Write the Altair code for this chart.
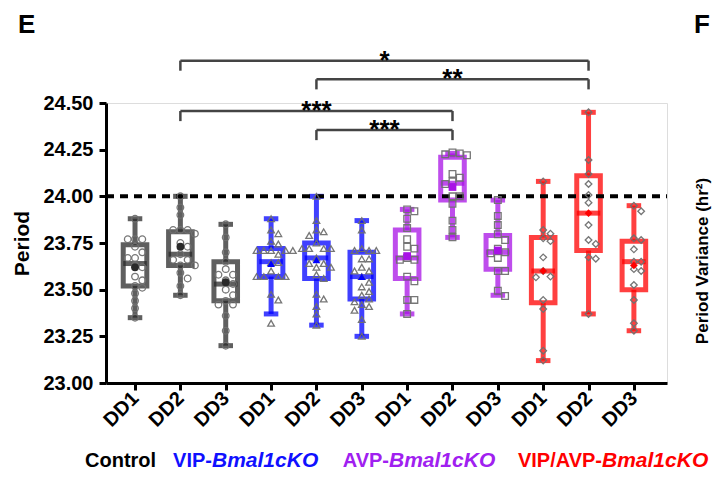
import altair as alt
import pandas as pd

# ---- data -------------------------------------------------------------
groups = ["Control", "VIP-Bmal1cKO", "AVP-Bmal1cKO", "VIP/AVP-Bmal1cKO"]
days = ["DD1", "DD2", "DD3"]
box_colors = ["#2a2a2a", "#0000FF", "#A812E6", "#FF0000"]
point_shapes = ["circle", "triangle-up", "square", "diamond"]
mean_shapes = ["circle", "circle", "square", "square"]

# individual animal periods (hr), per group and day
periods = {
    ("Control", "DD1"): [23.88, 23.77, 23.77, 23.77, 23.73, 23.70, 23.67, 23.67, 23.63,
                         23.62, 23.57, 23.55, 23.52, 23.51, 23.48, 23.44, 23.40, 23.35],
    ("Control", "DD2"): [24.00, 23.94, 23.90, 23.82, 23.82, 23.82, 23.80, 23.75, 23.73,
                         23.69, 23.66, 23.66, 23.63, 23.63, 23.59, 23.56, 23.52, 23.47],
    ("Control", "DD3"): [23.85, 23.78, 23.70, 23.65, 23.61, 23.58, 23.58, 23.55, 23.53,
                         23.50, 23.47, 23.44, 23.42, 23.42, 23.36, 23.28, 23.20],
    ("VIP-Bmal1cKO", "DD1"): [23.88, 23.82, 23.80, 23.76, 23.745, 23.71, 23.71, 23.71, 23.71,
                              23.71, 23.69, 23.645, 23.645, 23.60, 23.57, 23.57, 23.57,
                              23.57, 23.475, 23.445, 23.32],
    ("VIP-Bmal1cKO", "DD2"): [24.00, 23.87, 23.82, 23.81, 23.79, 23.75, 23.72, 23.72, 23.72,
                              23.72, 23.67, 23.64, 23.64, 23.62, 23.62, 23.58, 23.56,
                              23.475, 23.45, 23.41, 23.37, 23.31],
    ("VIP-Bmal1cKO", "DD3"): [23.87, 23.82, 23.72, 23.71, 23.71, 23.71, 23.665, 23.665,
                              23.62, 23.60, 23.60, 23.57, 23.54, 23.515, 23.49, 23.47,
                              23.45, 23.435, 23.42, 23.41, 23.39, 23.34, 23.25],
    ("AVP-Bmal1cKO", "DD1"): [23.93, 23.92, 23.88, 23.83, 23.77, 23.73, 23.72, 23.67, 23.66,
                              23.66, 23.57, 23.545, 23.445, 23.445, 23.37],
    ("AVP-Bmal1cKO", "DD2"): [24.235, 24.23, 24.225, 24.22, 24.12, 24.10, 24.08, 24.066,
                              24.00, 24.00, 23.96, 23.87, 23.82, 23.78],
    ("AVP-Bmal1cKO", "DD3"): [23.98, 23.895, 23.846, 23.797, 23.766, 23.72, 23.70, 23.695,
                              23.67, 23.60, 23.60, 23.494, 23.466],
    ("VIP/AVP-Bmal1cKO", "DD1"): [24.08, 23.82, 23.80, 23.775, 23.76, 23.673, 23.60, 23.57,
                                  23.566, 23.445, 23.396, 23.173, 23.12],
    ("VIP/AVP-Bmal1cKO", "DD2"): [24.45, 24.195, 24.12, 24.066, 24.007, 23.966, 23.846,
                                  23.766, 23.745, 23.673, 23.666, 23.37],
    ("VIP/AVP-Bmal1cKO", "DD3"): [23.95, 23.92, 23.775, 23.766, 23.716, 23.65, 23.65, 23.61,
                                  23.60, 23.525, 23.445, 23.32, 23.28],
}

# box summaries in plotting order (Control DD1 ... VIP/AVP DD3)
whisker_low = [23.35, 23.47, 23.20, 23.37, 23.31, 23.25, 23.37, 23.78, 23.47, 23.12, 23.37, 23.28]
quart_1 = [23.52, 23.63, 23.44, 23.57, 23.56, 23.45, 23.56, 23.98, 23.61, 23.43, 23.71, 23.50]
medians = [23.64, 23.69, 23.53, 23.65, 23.67, 23.57, 23.67, 24.07, 23.70, 23.60, 23.91, 23.65]
quart_3 = [23.74, 23.81, 23.65, 23.72, 23.75, 23.70, 23.82, 24.21, 23.79, 23.78, 24.11, 23.76]
whisker_high = [23.88, 24.00, 23.85, 23.88, 24.00, 23.87, 23.93, 24.23, 23.98, 24.08, 24.45, 23.95]
means = [23.62, 23.73, 23.54, 23.64, 23.66, 23.57, 23.68, 24.05, 23.71, 23.60, 23.91, 23.63]

# significance comparisons: (from box, to box, bracket level, stars)
sig_from = [2, 5, 2, 5]
sig_to = [11, 11, 8, 8]
sig_level = [24.727, 24.627, 24.457, 24.355]
sig_label = ["*", "**", "***", "***"]

y_ticks = [23.00, 23.25, 23.50, 23.75, 24.00, 24.25, 24.50]
reference_period = 24.0

# ---- tables -------------------------------------------------------------
BOX_HALF = 0.26
CAP_HALF = 0.16
LEG_DROP = 0.054


def swarm(values, dv=0.036, dx=0.16):
    """Deterministic beeswarm offsets so overlapping markers sit side by side."""
    order = sorted(range(len(values)), key=lambda k: -values[k])
    placed = []
    offs = [0.0] * len(values)
    for k in order:
        v = values[k]
        for step in range(0, 12):
            cand = 0.0 if step == 0 else ((step + 1) // 2) * dx * (1 if step % 2 else -1)
            if all(abs(v - pv) >= dv or abs(cand - po) >= dx * 0.95 for pv, po in placed):
                break
        placed.append((v, cand))
        offs[k] = cand
    return offs


box_rows = []
point_rows = []
for gi, g in enumerate(groups):
    for di, d in enumerate(days):
        i = gi * 3 + di
        pos = i + 1
        box_rows.append({
            "group": g, "day": d, "pos": pos,
            "left": pos - BOX_HALF, "right": pos + BOX_HALF,
            "cap_l": pos - CAP_HALF, "cap_r": pos + CAP_HALF,
            "low": whisker_low[i], "q1": quart_1[i], "median": medians[i],
            "q3": quart_3[i], "high": whisker_high[i], "mean": means[i],
        })
        vals = periods[(g, d)]
        for v, o in zip(vals, swarm(vals)):
            point_rows.append({"group": g, "day": d, "x": pos + o, "period": v})

boxes = pd.DataFrame(box_rows)
points = pd.DataFrame(point_rows)

brackets = pd.DataFrame({
    "x1": sig_from, "x2": sig_to, "level": sig_level, "label": sig_label,
})
brackets["mid"] = (brackets["x1"] + brackets["x2"]) / 2
brackets["foot"] = brackets["level"] - LEG_DROP

# ---- scales & axes --------------------------------------------------------
X_DOMAIN = [0.36, 12.73]
Y_DOMAIN = [23.0, 24.5]
FONT = "Liberation Sans"

x_axis = alt.Axis(
    values=list(range(1, 13)),
    labelExpr="['DD1','DD2','DD3'][(datum.value - 1) % 3]",
    labelAngle=-45, labelAlign="right", labelBaseline="middle",
    labelFontSize=20, labelFontWeight="bold", labelFont=FONT,
    labelColor="black", labelPadding=5, tickSize=7, tickWidth=3, tickColor="black",
    domainWidth=3, domainColor="black", grid=False, title=None,
)
y_axis = alt.Axis(
    values=y_ticks, format=".2f",
    labelFontSize=20, labelFontWeight="bold", labelFont=FONT, labelColor="black",
    labelPadding=6, tickSize=7, tickWidth=3, tickColor="black",
    domainWidth=3, domainColor="black", grid=False,
    title="Period", titleFontSize=21, titleFontWeight="bold", titleFont=FONT,
    titleColor="black", titlePadding=10,
)
x_scale = alt.Scale(domain=X_DOMAIN, nice=False, zero=False)
y_scale = alt.Scale(domain=Y_DOMAIN, nice=False, zero=False)
col_scale = alt.Scale(domain=groups, range=box_colors)


def X(field):
    return alt.X(f"{field}:Q", scale=x_scale, axis=x_axis)


def Y(field):
    return alt.Y(f"{field}:Q", scale=y_scale, axis=y_axis)


color = alt.Color("group:N", scale=col_scale, legend=None)
BOX_OPACITY = 0.75

# ---- layers ------------------------------------------------------------
ref_line = alt.Chart(pd.DataFrame({"y": [reference_period]})).mark_rule(
    color="black", strokeWidth=4, strokeDash=[8, 6]
).encode(x=alt.datum(X_DOMAIN[0]), x2=alt.datum(X_DOMAIN[1]), y=Y("y"))

base = alt.Chart(boxes)

whiskers = base.mark_rule(strokeWidth=5, opacity=BOX_OPACITY).encode(
    x=X("pos"), y=Y("low"), y2="high", stroke=color
)
caps_low = base.mark_rule(strokeWidth=5, opacity=BOX_OPACITY).encode(
    x=X("cap_l"), x2="cap_r", y=Y("low"), stroke=color
)
caps_high = base.mark_rule(strokeWidth=5, opacity=BOX_OPACITY).encode(
    x=X("cap_l"), x2="cap_r", y=Y("high"), stroke=color
)
box_fill = base.mark_rect(fill="white", strokeWidth=0).encode(
    x=X("left"), x2="right", y=Y("q1"), y2="q3"
)
box_edge = base.mark_rect(fillOpacity=0, strokeWidth=5, strokeOpacity=BOX_OPACITY).encode(
    x=X("left"), x2="right", y=Y("q1"), y2="q3", stroke=color
)
median_line = base.mark_rule(strokeWidth=5, opacity=BOX_OPACITY).encode(
    x=X("left"), x2="right", y=Y("median"), stroke=color
)

dots = alt.Chart(points).mark_point(
    filled=False, strokeWidth=1.3, color="#707070", opacity=0.95, size=44
).encode(
    x=X("x"), y=Y("period"),
    shape=alt.Shape("group:N", scale=alt.Scale(domain=groups, range=point_shapes), legend=None),
)

mean_marks = base.mark_point(filled=True, size=60, opacity=1).encode(
    x=X("pos"), y=Y("mean"), color=color,
    shape=alt.Shape("group:N", scale=alt.Scale(domain=groups, range=mean_shapes), legend=None),
)

bk = alt.Chart(brackets)
bracket_top = bk.mark_rule(color="#444444", strokeWidth=2.5).encode(
    x=X("x1"), x2="x2", y=Y("level")
)
bracket_left = bk.mark_rule(color="#444444", strokeWidth=2.5).encode(
    x=X("x1"), y=Y("foot"), y2="level"
)
bracket_right = bk.mark_rule(color="#444444", strokeWidth=2.5).encode(
    x=X("x2"), y=Y("foot"), y2="level"
)
stars = bk.mark_text(
    fontSize=26, fontWeight="bold", font=FONT, color="black",
    baseline="alphabetic", align="center", dy=8,
).encode(x=X("mid"), y=Y("level"), text="label:N")

# ---- panel letters, neighbour-panel axis title and group key --------------
def label(text, x, y, **kw):
    return alt.Chart(pd.DataFrame({"t": [text]})).mark_text(font=FONT, **kw).encode(
        x=alt.value(x), y=alt.value(y), text="t:N"
    )


panel_e = label("E", -88, -70, fontSize=26, fontWeight="bold", align="left",
                baseline="alphabetic", color="black")
panel_f = label("F", 588, -70, fontSize=26, fontWeight="bold", align="left",
                baseline="alphabetic", color="black")
side_title = label("Period Variance (hr²)", 597, 158, fontSize=17, fontWeight="bold",
                   angle=270, align="center", baseline="middle", color="black")

KEY_Y = 364
key_parts = [
    label("Control", -21, KEY_Y, fontSize=20, fontWeight="bold", align="left",
          baseline="alphabetic", color="black"),
]
key_joins = [106, 283, 496]
key_prefix = ["VIP-", "AVP-", "VIP/AVP-"]
key_colors = ["#1010FF", "#A020F0", "#FF0000"]
for jx, pre, kc in zip(key_joins, key_prefix, key_colors):
    key_parts.append(label(pre, jx, KEY_Y, fontSize=20, fontWeight="bold", align="right",
                           baseline="alphabetic", color=kc))
    key_parts.append(label("Bmal1cKO", jx, KEY_Y, fontSize=21, fontWeight="bold",
                           fontStyle="italic", align="left", baseline="alphabetic", color=kc))

chart = alt.layer(
    whiskers, caps_low, caps_high, box_fill, box_edge, median_line,
    ref_line, dots, mean_marks,
    bracket_top, bracket_left, bracket_right, stars,
    panel_e, panel_f, side_title, *key_parts,
).properties(
    width=561, height=280,
    autosize=alt.AutoSizeParams(type="none"),
    padding={"left": 106, "top": 103, "right": 45, "bottom": 115},
).configure_view(stroke=None).configure(background="white")

chart.save("out.html", embed_options={"renderer": "svg", "actions": False})
